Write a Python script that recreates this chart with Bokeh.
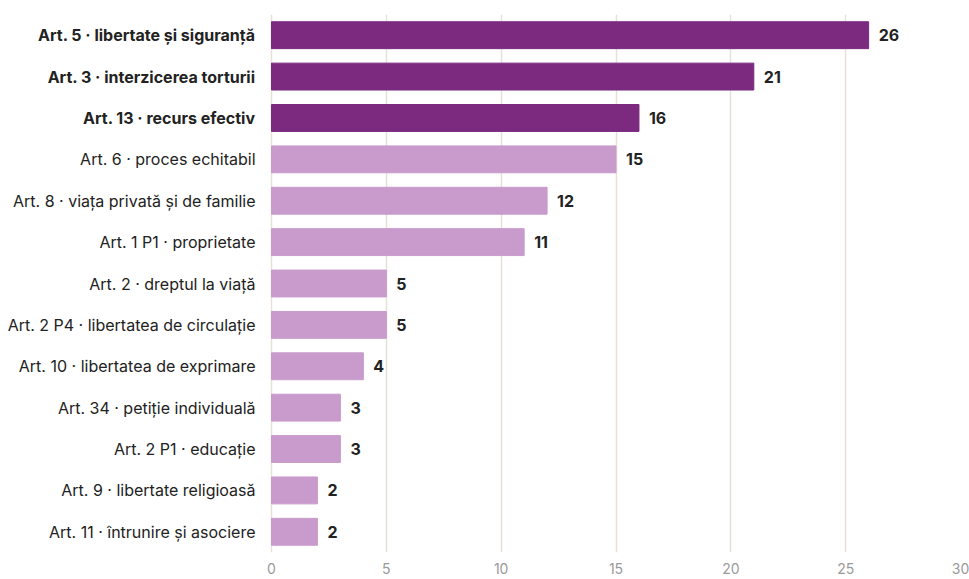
from bokeh.plotting import figure
from bokeh.models import ColumnDataSource, FactorRange, FixedTicker, LabelSet, Range1d
from bokeh.core.properties import value
from bokeh.embed import file_html
from bokeh.resources import INLINE

categories = [
    "Art. 5 · libertate și siguranță",
    "Art. 3 · interzicerea torturii",
    "Art. 13 · recurs efectiv",
    "Art. 6 · proces echitabil",
    "Art. 8 · viața privată și de familie",
    "Art. 1 P1 · proprietate",
    "Art. 2 · dreptul la viață",
    "Art. 2 P4 · libertatea de circulație",
    "Art. 10 · libertatea de exprimare",
    "Art. 34 · petiție individuală",
    "Art. 2 P1 · educație",
    "Art. 9 · libertate religioasă",
    "Art. 11 · întrunire și asociere",
]
counts = [26, 21, 16, 15, 12, 11, 5, 5, 4, 3, 3, 2, 2]
highlight = [True, True, True, False, False, False, False, False, False, False, False, False, False]
x_ticks = [0, 5, 10, 15, 20, 25, 30]

DARK = "#7b2a80"
LIGHT = "#c99bcc"
FONT = "Inter"

colors = [DARK if h else LIGHT for h in highlight]
weights = ["bold" if h else "normal" for h in highlight]

src = ColumnDataSource(dict(cat=categories, val=counts, color=colors, weight=weights,
                            label=[str(c) for c in counts], zero=[0] * len(counts)))

# frame spans the label column too; the value axis starts 271px in
FW = 960
LABEL_W = 271
XMAX = 30
xr = Range1d(-XMAX * LABEL_W / (FW - LABEL_W), XMAX)

p = figure(frame_width=FW, frame_height=538,
           y_range=FactorRange(*reversed(categories), range_padding=0), x_range=xr,
           output_backend="svg", toolbar_location=None,
           min_border_left=0, min_border_right=9, min_border_top=14, min_border_bottom=0)

p.hbar(y="cat", right="val", left=0, height=0.65, color="color", source=src)

p.text(x="zero", y="cat", text="cat", source=src, x_offset=-16,
       text_align="right", text_baseline="middle", text_font=value(FONT),
       text_font_size="16px", text_font_style="weight", text_color="#222222")

p.add_layout(LabelSet(x="val", y="cat", text="label", source=src, x_offset=10,
                      text_align="left", text_baseline="middle", text_font=value(FONT),
                      text_font_size="16px", text_font_style="bold", text_color="#222222"))

p.yaxis.visible = False
p.ygrid.visible = False
p.outline_line_color = None

p.xaxis.ticker = FixedTicker(ticks=x_ticks)
p.xaxis.axis_line_color = None
p.xaxis.major_tick_line_color = None
p.xaxis.minor_tick_line_color = None
p.xaxis.major_tick_out = 0
p.xaxis.major_tick_in = 0
p.xaxis.major_label_text_font = FONT
p.xaxis.major_label_text_font_size = "14px"
p.xaxis.major_label_text_color = "#9a9a9a"
p.xaxis.major_label_standoff = 10

p.xgrid.ticker = FixedTicker(ticks=x_ticks)
p.xgrid.grid_line_color = "#e6e1d6"
p.xgrid.grid_line_width = 1.5

open("out.html", "w").write(file_html(p, INLINE))
